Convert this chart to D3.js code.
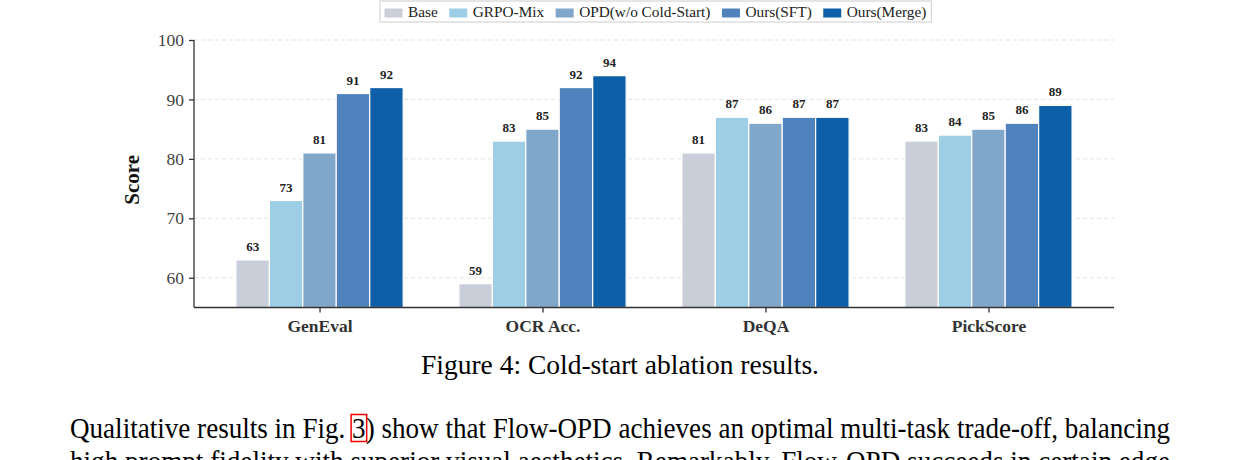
<!DOCTYPE html>
<html>
<head>
	<script src="https://cdn.jsdelivr.net/npm/d3@7"></script>
	<style>
		html, body { margin: 0; padding: 0; background: #fff; }
		svg { display: block; font-family: "Liberation Serif", "Times New Roman", serif; }
	</style>
</head>
<body>
	<div id="chart"></div>
	<script>
		// data
		var categories = ["GenEval", "OCR Acc.", "DeQA", "PickScore"];
		var series = ["Base", "GRPO-Mix", "OPD(w/o Cold-Start)", "Ours(SFT)", "Ours(Merge)"];
		var baseVals  = [63, 59, 81, 83];
		var grpoVals  = [73, 83, 87, 84];
		var opdVals   = [81, 85, 86, 85];
		var sftVals   = [91, 92, 87, 86];
		var mergeVals = [92, 94, 87, 89];
		var colors = ["#c9ced8", "#9ecde6", "#80a6c9", "#5082bd", "#0d5fa7"];
		var yTicks = [60, 70, 80, 90, 100];

		var allVals = [baseVals, grpoVals, opdVals, sftVals, mergeVals];

		var width = 1240, height = 460;
		var svg = d3.select("#chart").append("svg")
			.attr("width", width)
			.attr("height", height);

		var pLeft = 194, pRight = 1114, pTop = 40, pBottom = 307.5;

		var x = d3.scalePoint().domain(categories).range([pLeft, pRight]).padding(0.563);
		var groupW = x.step() * 0.75;
		var x1 = d3.scaleBand().domain(series).range([-groupW / 2, groupW / 2]);
		var y = d3.scaleLinear().domain([55, 100]).range([pBottom, pTop]);

		// grid
		svg.append("g").selectAll("line")
			.data(yTicks).enter().append("line")
			.attr("x1", pLeft).attr("x2", pRight)
			.attr("y1", function(d) { return y(d); })
			.attr("y2", function(d) { return y(d); })
			.attr("stroke", "#e3e3e3")
			.attr("stroke-width", 1)
			.attr("stroke-dasharray", "4,3");

		// bars
		var groups = svg.append("g").selectAll("g")
			.data(series).enter().append("g")
			.attr("fill", function(d, i) { return colors[i]; });

		function rows(s, si) {
			return categories.map(function(c, ci) { return {s: s, c: c, v: allVals[si][ci]}; });
		}

		groups.selectAll("rect")
			.data(rows)
			.enter().append("rect")
			.attr("x", function(d) { return x(d.c) + x1(d.s); })
			.attr("width", x1.bandwidth())
			.attr("y", function(d) { return y(d.v); })
			.attr("height", function(d) { return y(55) - y(d.v); })
			.attr("stroke", "#fff")
			.attr("stroke-width", 1.2);

		groups.selectAll("text")
			.data(rows)
			.enter().append("text")
			.attr("x", function(d) { return x(d.c) + x1(d.s) + x1.bandwidth() / 2; })
			.attr("y", function(d) { return y(d.v) - 9; })
			.attr("text-anchor", "middle")
			.attr("font-size", 13)
			.attr("font-weight", "bold")
			.attr("fill", "#222")
			.text(function(d) { return d.v; });

		// axes
		var yAxis = svg.append("g")
			.attr("transform", "translate(" + pLeft + ",0)")
			.call(d3.axisLeft(y).tickValues(yTicks).tickSize(5).tickPadding(5));
		yAxis.select(".domain").attr("d", "M0," + pTop + "V" + pBottom).attr("stroke", "#333").attr("stroke-width", 1.3);
		yAxis.selectAll(".tick line").attr("stroke", "#333").attr("stroke-width", 1.3);
		yAxis.selectAll(".tick text")
			.attr("font-family", "Liberation Serif, serif")
			.attr("font-size", 17.5)
			.attr("fill", "#444");

		var xAxis = svg.append("g")
			.attr("transform", "translate(0," + pBottom + ")")
			.call(d3.axisBottom(x).tickSize(5).tickPadding(7));
		xAxis.select(".domain").attr("d", "M" + pLeft + ",0H" + pRight).attr("stroke", "#333").attr("stroke-width", 1.3);
		xAxis.selectAll(".tick line").attr("stroke", "#333").attr("stroke-width", 1.3);
		xAxis.selectAll(".tick text")
			.attr("font-family", "Liberation Serif, serif")
			.attr("font-size", 17.5)
			.attr("font-weight", "bold")
			.attr("fill", "#333");

		svg.append("text")
			.attr("transform", "translate(139," + ((pTop + pBottom) / 2 + 6) + ") rotate(-90)")
			.attr("text-anchor", "middle")
			.attr("font-size", 21)
			.attr("font-weight", "bold")
			.attr("fill", "#111")
			.text("Score");

		// legend
		var legend = svg.append("g");
		var box = legend.append("rect")
			.attr("y", 1).attr("height", 21)
			.attr("fill", "#fff")
			.attr("stroke", "#ccc")
			.attr("stroke-width", 1);
		var lx = 384.5;
		series.forEach(function(s, i) {
			legend.append("rect")
				.attr("x", lx).attr("y", 8.5)
				.attr("width", 18).attr("height", 9)
				.attr("fill", colors[i]);
			var t = legend.append("text")
				.attr("x", lx + 23.5).attr("y", 17)
				.attr("font-size", 15.3)
				.attr("fill", "#222")
				.text(s);
			lx += 23.5 + t.node().getComputedTextLength() + 11.5;
		});
		box.attr("x", 380).attr("width", lx - 11.5 + 5 - 380);

		// caption and body text
		svg.append("text")
			.attr("x", 620).attr("y", 374)
			.attr("text-anchor", "middle")
			.attr("font-size", 27.5)
			.attr("fill", "#000")
			.text("Figure 4: Cold-start ablation results.");

		var lines = [
			"Qualitative results in Fig. 3) show that Flow-OPD achieves an optimal multi-task trade-off, balancing",
			"high prompt fidelity with superior visual aesthetics. Remarkably, Flow-OPD succeeds in certain edge"
		];
		lines.forEach(function(l, i) {
			var t = svg.append("text")
				.attr("x", 70).attr("y", 438 + i * 33)
				.attr("font-size", 29)
				.attr("fill", "#000")
				.text(l);
			t.attr("textLength", 1100).attr("lengthAdjust", "spacingAndGlyphs");
			if (i === 0) {
				var idx = l.indexOf("3)");
				var ext = t.node().getExtentOfChar(idx);
				svg.append("rect")
					.attr("x", ext.x - 1).attr("y", 414.5)
					.attr("width", ext.width + 2).attr("height", 27)
					.attr("fill", "none")
					.attr("stroke", "#e00")
					.attr("stroke-width", 1.5);
			}
		});
	</script>
</body>
</html>
